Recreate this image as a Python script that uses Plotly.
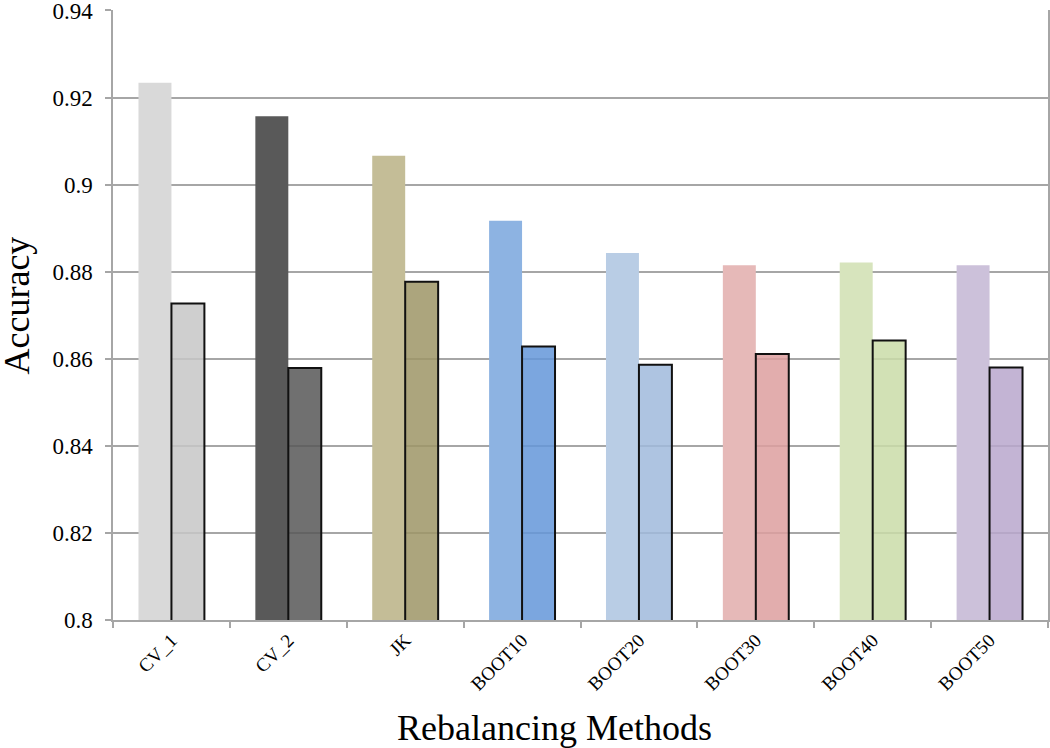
import plotly.graph_objects as go

categories = ["CV_1", "CV_2", "JK", "BOOT10", "BOOT20", "BOOT30", "BOOT40", "BOOT50"]
series_a = [0.9234, 0.9157, 0.9066, 0.8917, 0.8843, 0.8815, 0.8821, 0.8815]
series_b = [0.8727, 0.8579, 0.8777, 0.8628, 0.8586, 0.8611, 0.8642, 0.8580]
y_tick_vals = [0.80, 0.82, 0.84, 0.86, 0.88, 0.90, 0.92, 0.94]
y_tick_text = ["0.8", "0.82", "0.84", "0.86", "0.88", "0.9", "0.92", "0.94"]

colors_a = ["#d9d9d9", "#595959", "#c4bd97", "#8db3e2", "#b9cde5", "#e6b9b8", "#d7e4bd", "#ccc1da"]
colors_b_display = ["#cfcfcf", "#707070", "#aca57d", "#7ba7df", "#aec4e1", "#e2adad", "#d2e1b5", "#c3b4d4"]

ALPHA = 0.85


def to_rgba(hexc, a=ALPHA):
    r, g, b = (int(hexc[i:i + 2], 16) for i in (1, 3, 5))
    conv = lambda c: max(0, min(255, round((c - (1 - a) * 255) / a)))
    return f"rgba({conv(r)},{conv(g)},{conv(b)},{a})"


colors_b = [to_rgba(c) for c in colors_b_display]

FONT = "Liberation Serif, Times New Roman, serif"
GRID = "#a6a6a6"

fig = go.Figure()
fig.add_trace(go.Bar(x=categories, y=series_a, marker=dict(color=colors_a, line=dict(width=0)),
                     showlegend=False))
fig.add_trace(go.Bar(x=categories, y=series_b,
                     marker=dict(color=colors_b, line=dict(color="#111111", width=2)),
                     showlegend=False))

fig.update_layout(
    width=1050, height=748,
    margin=dict(l=113, r=2, t=10, b=128, autoexpand=False),
    paper_bgcolor="white", plot_bgcolor="white",
    barmode="group", bargap=0.436, bargroupgap=0,
    font=dict(family=FONT, color="black"),
    xaxis=dict(
        type="category", tickson="boundaries", ticks="outside", ticklen=6,
        tickcolor=GRID, tickwidth=1.5, showline=True, linecolor=GRID, linewidth=1.5,
        showgrid=False, tickangle=-45, tickfont=dict(size=19, family=FONT),
        automargin=False,
    ),
    yaxis=dict(
        range=[0.8, 0.9401], tickvals=y_tick_vals, ticktext=y_tick_text,
        ticks="outside", ticklen=6, tickcolor=GRID, tickwidth=1.5,
        showgrid=True, gridcolor=GRID, gridwidth=1.5,
        showline=True, linecolor=GRID, linewidth=1.5, mirror=True,
        zeroline=False, tickfont=dict(size=23, family=FONT), automargin=False,
        ticklabeloverflow="allow", ticklabelstandoff=8,
    ),
    annotations=[
        dict(text="Accuracy", xref="paper", yref="paper", x=-0.103, y=0.515,
             xanchor="center", yanchor="middle", textangle=-90, showarrow=False,
             font=dict(size=36, family=FONT)),
        dict(text="Rebalancing Methods", xref="paper", yref="paper", x=0.472, y=-0.177,
             xanchor="center", yanchor="middle", showarrow=False,
             font=dict(size=36, family=FONT)),
    ],
)

fig.write_html("out.html", config={"displayModeBar": False},
               post_script="document.body.style.margin='0px';")
